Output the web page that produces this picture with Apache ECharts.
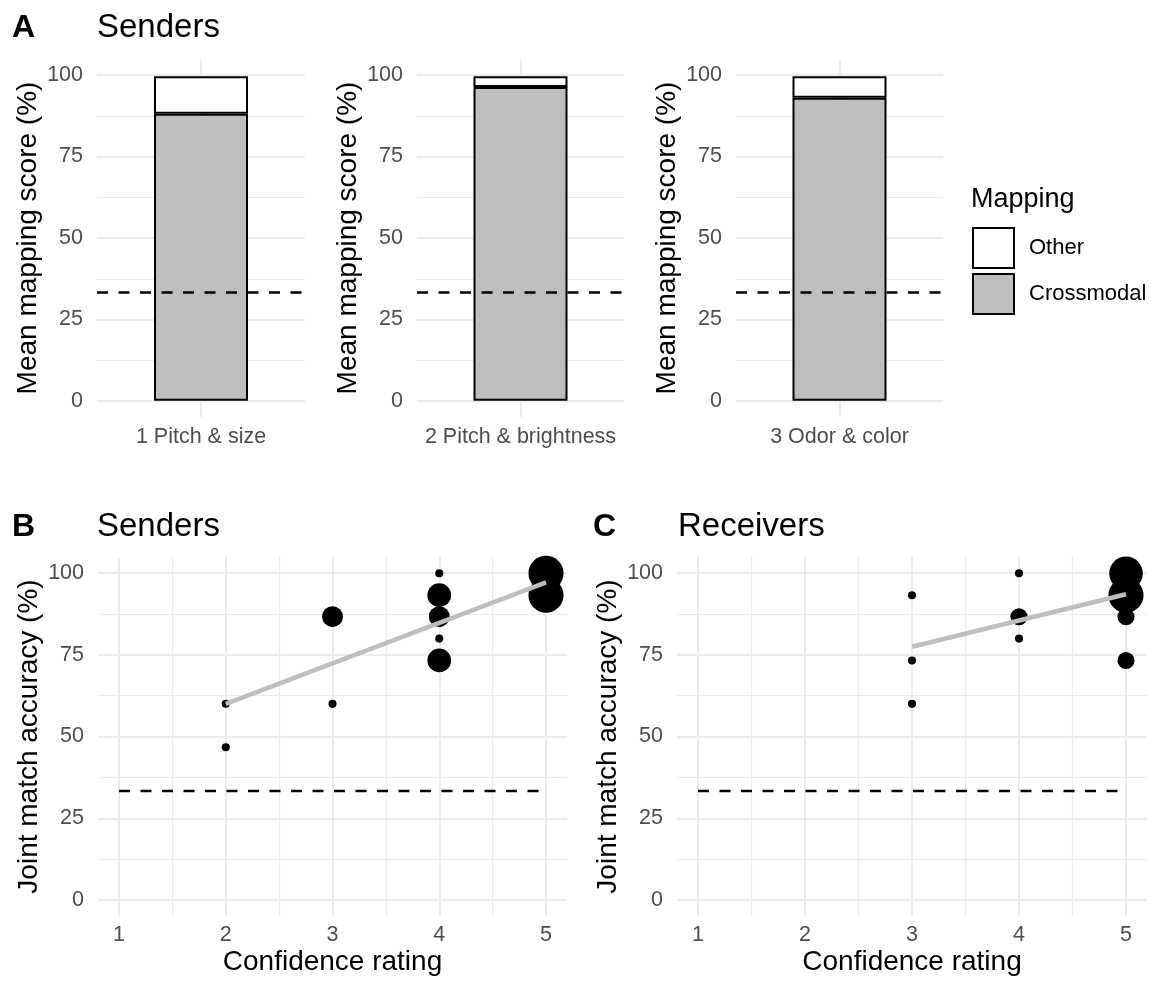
<!DOCTYPE html>
<html>
<head>
<meta charset="utf-8">
<script src="https://cdn.jsdelivr.net/npm/echarts@6/dist/echarts.min.js"></script>
<style>
html,body{margin:0;padding:0;background:#fff;}
#chart{width:1151px;height:981px;}
</style>
</head>
<body>
<div id="chart"></div>
<script>
// ---------------- data ----------------
const categories = ['1 Pitch & size', '2 Pitch & brightness', '3 Odor & color'];
const crossmodalScore = [88.4, 96.7, 93.4];
const otherScore = [11.6, 3.3, 6.6];
const chanceLevel = 33.3;

const sendersConfidence = [2, 2, 3, 3, 4, 4, 4, 4, 4, 5, 5];
const sendersAccuracy   = [60, 46.7, 86.7, 60, 100, 93.3, 86.7, 80, 73.3, 100, 93.3];
const sendersCount      = [1, 1, 3, 1, 1, 4, 3, 1, 4, 10, 10];
const sendersFitX = [2, 5];
const sendersFitY = [60.0, 97.2];

const receiversConfidence = [3, 3, 3, 4, 4, 4, 5, 5, 5, 5];
const receiversAccuracy   = [93.3, 73.3, 60, 100, 86.7, 80, 100, 93.3, 86.7, 73.3];
const receiversCount      = [1, 1, 1, 1, 2, 1, 9, 10, 2, 2];
const receiversFitX = [3, 5];
const receiversFitY = [77.5, 93.6];

const confidenceRange = [1, 5];
const yTicks = [0, 25, 50, 75, 100];

// ---------------- styling ----------------
const FONT = 'Liberation Sans, Arial, Helvetica, sans-serif';
const GRID_C = '#ebebeb';
const TICK_C = '#4d4d4d';
const TICK_FS = 21.5;
const countMax = 10;
function pointSize(n) {
  return 5.4 * (1.5 + 5 * Math.sqrt((n - 1) / (countMax - 1)));
}

const grids = [], xAxes = [], yAxes = [], series = [];

function hLayer(g, yName, nameGap) {
  grids.push(g);
  const gi = grids.length - 1;
  xAxes.push({ type: 'value', gridIndex: gi, min: 0, max: 1, show: false });
  yAxes.push({
    type: 'value', gridIndex: gi, min: yTicks[0], max: yTicks[yTicks.length - 1],
    interval: yTicks[1] - yTicks[0],
    axisLine: { show: false }, axisTick: { show: false },
    axisLabel: { color: TICK_C, fontSize: TICK_FS, fontFamily: FONT, margin: 14 },
    splitLine: { show: true, lineStyle: { color: GRID_C, width: 2 } },
    minorTick: { show: false, splitNumber: 2 },
    minorSplitLine: { show: true, lineStyle: { color: GRID_C, width: 1.2 } },
    name: yName, nameLocation: 'middle', nameGap: nameGap,
    nameTextStyle: { fontSize: 28, color: '#000', fontFamily: FONT }
  });
}

// ---------- Panel A (three bar facets) ----------
const aLefts = [97, 417, 736];
const aWidths = [208, 207, 207];
for (let i = 0; i < categories.length; i++) {
  // vertical layer (full expanded height) carrying the data
  grids.push({ left: aLefts[i], top: 60, width: aWidths[i], height: 357 });
  const gi = grids.length - 1;
  const xCat = xAxes.length;
  xAxes.push({
    type: 'category', gridIndex: gi, data: [categories[i]], position: 'bottom',
    axisLine: { show: false }, axisTick: { show: false },
    axisLabel: { color: TICK_C, fontSize: TICK_FS, fontFamily: FONT, margin: 9 },
    splitLine: { show: false }
  });
  // helper axis giving the single vertical grid line at the category centre
  xAxes.push({
    type: 'value', gridIndex: gi, min: 0, max: 2, interval: 1, position: 'top',
    axisLine: { show: false }, axisTick: { show: false }, axisLabel: { show: false },
    splitLine: { show: true, showMinLine: false, showMaxLine: false, lineStyle: { color: GRID_C, width: 2 } }
  });
  const yi = yAxes.length;
  yAxes.push({ type: 'value', gridIndex: gi, min: -5, max: 105, show: false });
  series.push({
    type: 'bar', name: 'Crossmodal', xAxisIndex: xCat, yAxisIndex: yi, stack: 'a' + i,
    barWidth: 94, data: [crossmodalScore[i]],
    itemStyle: { color: '#bebebe', borderColor: '#000', borderWidth: 2 },
    emphasis: { disabled: true }, silent: true,
    markLine: {
      silent: true, symbol: 'none', label: { show: false },
      lineStyle: { color: '#000', width: 2.5, type: [11, 10.5] },
      data: [{ yAxis: chanceLevel }]
    }
  });
  series.push({
    type: 'bar', name: 'Other', xAxisIndex: xCat, yAxisIndex: yi, stack: 'a' + i,
    barWidth: 94, data: [otherScore[i]],
    itemStyle: { color: '#ffffff', borderColor: '#000', borderWidth: 2 },
    emphasis: { disabled: true }, silent: true
  });
  // horizontal layer
  hLayer({ left: aLefts[i], top: 75, width: aWidths[i], height: 326 }, 'Mean mapping score (%)', 55);
}

// ---------- Panels B and C (scatter) ----------
function scatterPanel(innerLeft, innerWidth, outerLeft, outerWidth, conf, acc, cnt, fx, fy) {
  grids.push({ left: innerLeft, top: 557, width: innerWidth, height: 359 });
  const gi = grids.length - 1;
  const xi = xAxes.length, yi = yAxes.length;
  xAxes.push({
    type: 'value', gridIndex: gi, min: confidenceRange[0], max: confidenceRange[1], interval: 1,
    axisLine: { show: false }, axisTick: { show: false },
    axisLabel: { color: TICK_C, fontSize: TICK_FS, fontFamily: FONT, margin: 8 },
    splitLine: { show: true, lineStyle: { color: GRID_C, width: 2 } },
    minorTick: { show: false, splitNumber: 2 },
    minorSplitLine: { show: true, lineStyle: { color: GRID_C, width: 1.2 } },
    name: 'Confidence rating', nameLocation: 'middle', nameGap: 32,
    nameTextStyle: { fontSize: 28, color: '#000', fontFamily: FONT }
  });
  yAxes.push({ type: 'value', gridIndex: gi, min: -5, max: 105, show: false });
  series.push({
    type: 'scatter', xAxisIndex: xi, yAxisIndex: yi, silent: true,
    data: conf.map((c, k) => [c, acc[k], cnt[k]]),
    symbolSize: (d) => pointSize(d[2]),
    itemStyle: { color: '#000', opacity: 1 }, z: 2
  });
  series.push({
    type: 'line', xAxisIndex: xi, yAxisIndex: yi, silent: true, symbol: 'none',
    data: [[confidenceRange[0], chanceLevel], [confidenceRange[1], chanceLevel]],
    lineStyle: { color: '#000', width: 2.5, type: [11, 10.5] }, z: 2
  });
  series.push({
    type: 'line', xAxisIndex: xi, yAxisIndex: yi, silent: true, symbol: 'none',
    data: fx.map((x, k) => [x, fy[k]]),
    lineStyle: { color: '#bebebe', width: 4.5 }, z: 3
  });
  hLayer({ left: outerLeft, top: 573, width: outerWidth, height: 327 }, 'Joint match accuracy (%)', 55);
}
scatterPanel(119, 427, 98, 469, sendersConfidence, sendersAccuracy, sendersCount, sendersFitX, sendersFitY);
scatterPanel(698, 428, 677, 470, receiversConfidence, receiversAccuracy, receiversCount, receiversFitX, receiversFitY);

// ---------- titles ----------
function txt(x, y, t, size, bold) {
  return { type: 'text', x: x, y: y, silent: true,
    style: { text: t, fill: '#000', fontSize: size, fontWeight: bold ? 'bold' : 'normal',
             fontFamily: FONT, verticalAlign: 'middle', align: 'left' } };
}
const graphics = [
  txt(12, 28, 'A', 32, true), txt(97, 28, 'Senders', 33, false),
  txt(12, 527, 'B', 32, true), txt(97, 527, 'Senders', 33, false),
  txt(593, 527, 'C', 32, true), txt(678, 527, 'Receivers', 33, false),
  txt(971, 200, 'Mapping', 27, false)
];

const chart = echarts.init(document.getElementById('chart'), null, { renderer: 'canvas' });
chart.setOption({
  animation: false,
  backgroundColor: '#fff',
  grid: grids,
  xAxis: xAxes,
  yAxis: yAxes,
  series: series,
  graphic: graphics,
  legend: {
    orient: 'vertical', left: 972, top: 227, padding: 0,
    itemWidth: 41, itemHeight: 40, itemGap: 4, icon: 'rect', selectedMode: false,
    textStyle: { fontSize: 22, color: '#000', fontFamily: FONT, padding: [0, 0, 0, 10] },
    data: [
      { name: 'Other', itemStyle: { color: '#ffffff', borderColor: '#000', borderWidth: 2 } },
      { name: 'Crossmodal', itemStyle: { color: '#bebebe', borderColor: '#000', borderWidth: 2 } }
    ]
  }
});
</script>
</body>
</html>
